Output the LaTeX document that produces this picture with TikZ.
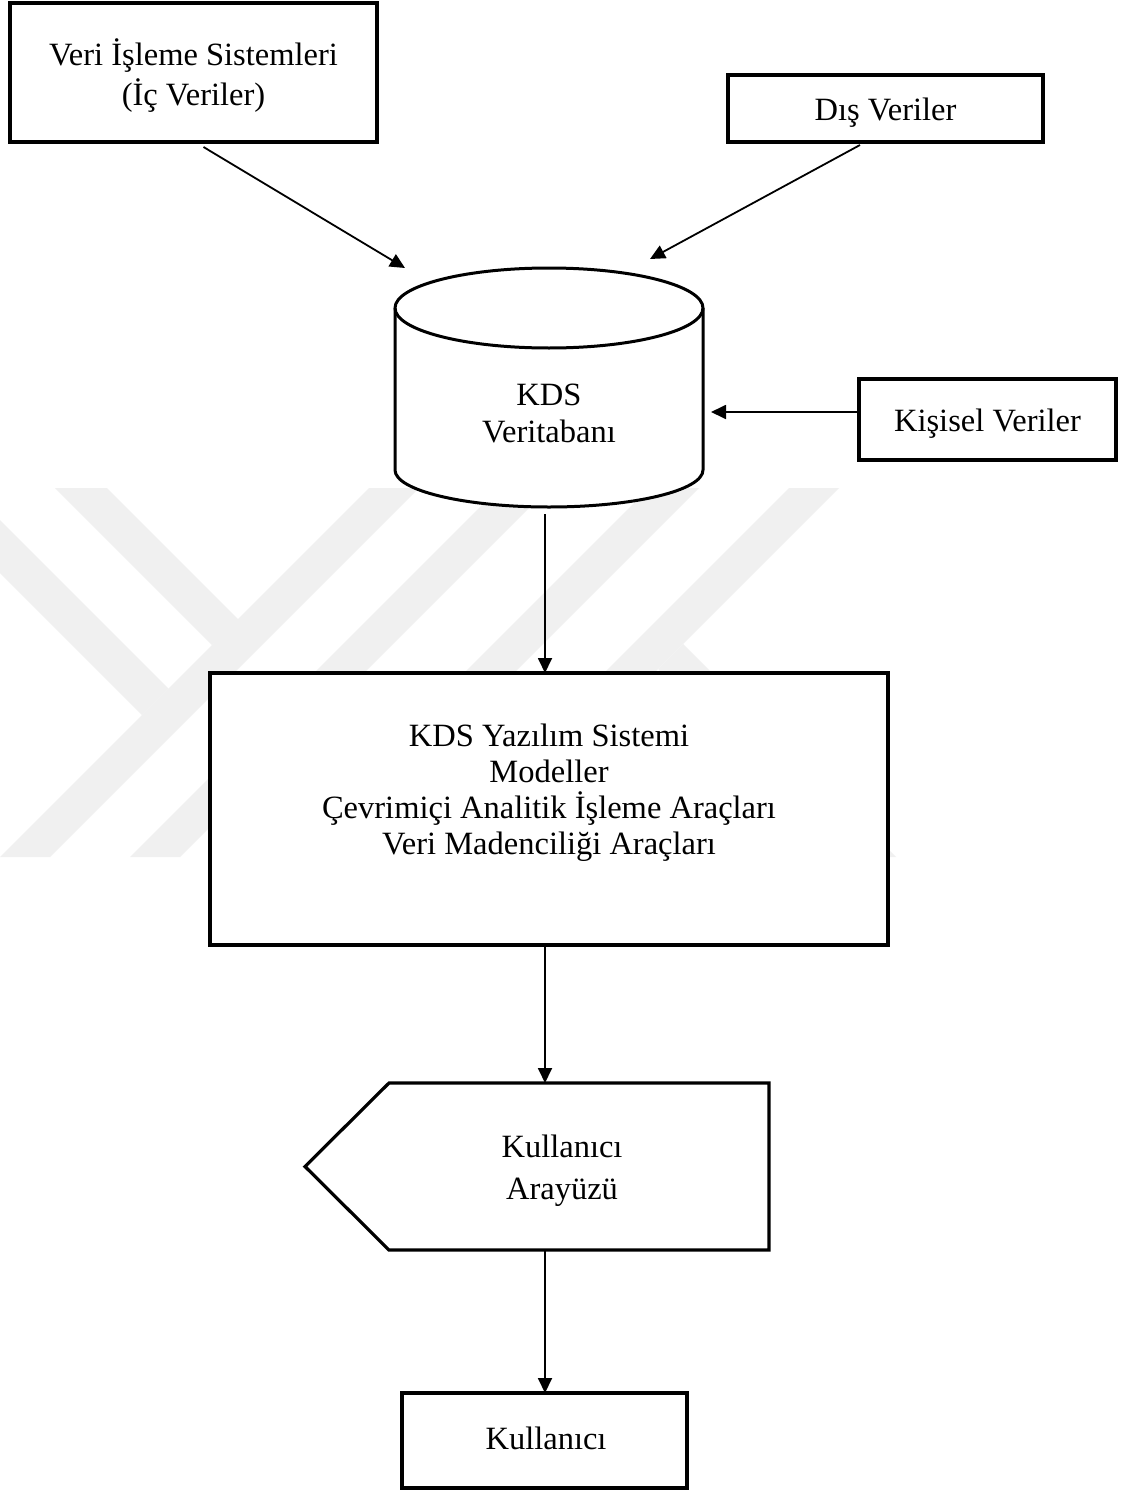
\documentclass[tikz,border=0pt]{standalone}
\usepackage{fontspec}
\setmainfont{Liberation Serif}
\usetikzlibrary{arrows.meta,calc}
\definecolor{wmgray}{RGB}{240,240,240}
\begin{document}
\begin{tikzpicture}[x=1pt,y=-1pt,
  box/.style={draw, line width=3.2pt, fill=white, rectangle, inner sep=0pt, outer sep=0pt},
  lbl/.style={align=center, inner sep=0pt, font=\fontsize{32.5}{38}\selectfont},
  conn/.style={line width=1.8pt, -{Triangle[length=15pt,width=14pt]}},
]
\useasboundingbox (0,0) rectangle (1133,1490);
\fill[white] (0,0) rectangle (1133,1490);

% faint background emblem
\begin{scope}
  \clip (0,488) rectangle (1133,857);
  \fill[wmgray] (0,857) -- (50,857) -- (419,488) -- (369,488) -- cycle;
  \fill[wmgray] (130,857) -- (180,857) -- (549,488) -- (499,488) -- cycle;
  \fill[wmgray] (280,857) -- (330,857) -- (699,488) -- (649,488) -- cycle;
  \fill[wmgray] (420,857) -- (470,857) -- (839,488) -- (789,488) -- cycle;
  \fill[wmgray] (55,488) -- (107,488) -- (240,621) -- (212,645) -- cycle;
  \fill[wmgray] (0,520) -- (168.5,688.5) -- (142,715) -- (0,573) -- cycle;
  \fill[wmgray] (683,644) -- (896,857) -- (846,857) -- (658,669) -- cycle;
\end{scope}

% source boxes
\node[box, minimum width=367pt, minimum height=139pt] (src) at (193.5,72.5) {};
\node[lbl, font=\fontsize{32.5}{40}\selectfont] (srctext) at (193.5,76) {Veri İşleme Sistemleri\\(İç Veriler)};
\node[box, minimum width=315pt, minimum height=67pt] (ext) at (885.5,108.5) {};
\node[lbl] (exttext) at (885.5,113) {Dış Veriler};
\node[box, minimum width=257pt, minimum height=81pt] (pers) at (987.5,419.5) {};
\node[lbl] (perstext) at (987.5,424) {Kişisel Veriler};

% database cylinder
\node[rectangle, inner sep=0pt, outer sep=0pt, minimum width=308pt, minimum height=239pt] (cyl) at (549,387.5) {};
\draw[line width=3pt, fill=white]
  (395,308) -- (395,470)
  arc[start angle=180, end angle=360, x radius=154pt, y radius=37pt]
  -- (703,308)
  arc[start angle=0, end angle=180, x radius=154pt, y radius=40pt] -- cycle;
\draw[line width=3pt] (395,308) arc[start angle=180, end angle=360, x radius=154pt, y radius=40pt];
\node[lbl, font=\fontsize{32.5}{37}\selectfont] (cyltext) at (549,413) {KDS\\Veritabanı};

% software system
\node[box, minimum width=678pt, minimum height=272pt] (kds) at (549,809) {};
\node[lbl, font=\fontsize{32.5}{36}\selectfont] (kdstext) at (549,793) {KDS Yazılım Sistemi\\Modeller\\Çevrimiçi Analitik İşleme Araçları\\Veri Madenciliği Araçları};

% user interface (pointed shape)
\node[rectangle, inner sep=0pt, outer sep=0pt, minimum width=380pt, minimum height=167pt] (ui) at (579,1166.5) {};
\draw[line width=3.2pt, fill=white, line join=miter]
  (ui.north west) -- (ui.north east) -- (ui.south east) -- (ui.south west)
  -- ($(ui.west)+(-84,0)$) -- cycle;
\node[lbl, font=\fontsize{32.5}{42}\selectfont] (uitext) at (562,1171) {Kullanıcı\\Arayüzü};

% user
\node[box, minimum width=285pt, minimum height=95pt] (user) at (544.5,1440.5) {};
\node[lbl] (usertext) at (546,1438) {Kullanıcı};

% connectors
\draw[conn] ($(src.south)+(10,5)$) -- ($(cyl.north west)+(10,0)$);
\draw[conn] ($(ext.south)+(-25.5,3)$) -- ($(cyl.north)+(101,-9)$);
\draw[conn] ($(pers.west)+(0,-7.5)$) -- ($(cyl.east)+(8,24.5)$);
\coordinate (c1) at ($(cyl.south)+(-4,7)$);
\draw[conn] (c1) -- (c1 |- kds.north);
\coordinate (c2) at ($(kds.south)+(-4,0)$);
\draw[conn] (c2) -- (c2 |- ui.north);
\coordinate (c3) at ($(user.north)+(0.5,0)$);
\draw[conn] (c3 |- ui.south) -- (c3);
\end{tikzpicture}
\end{document}
